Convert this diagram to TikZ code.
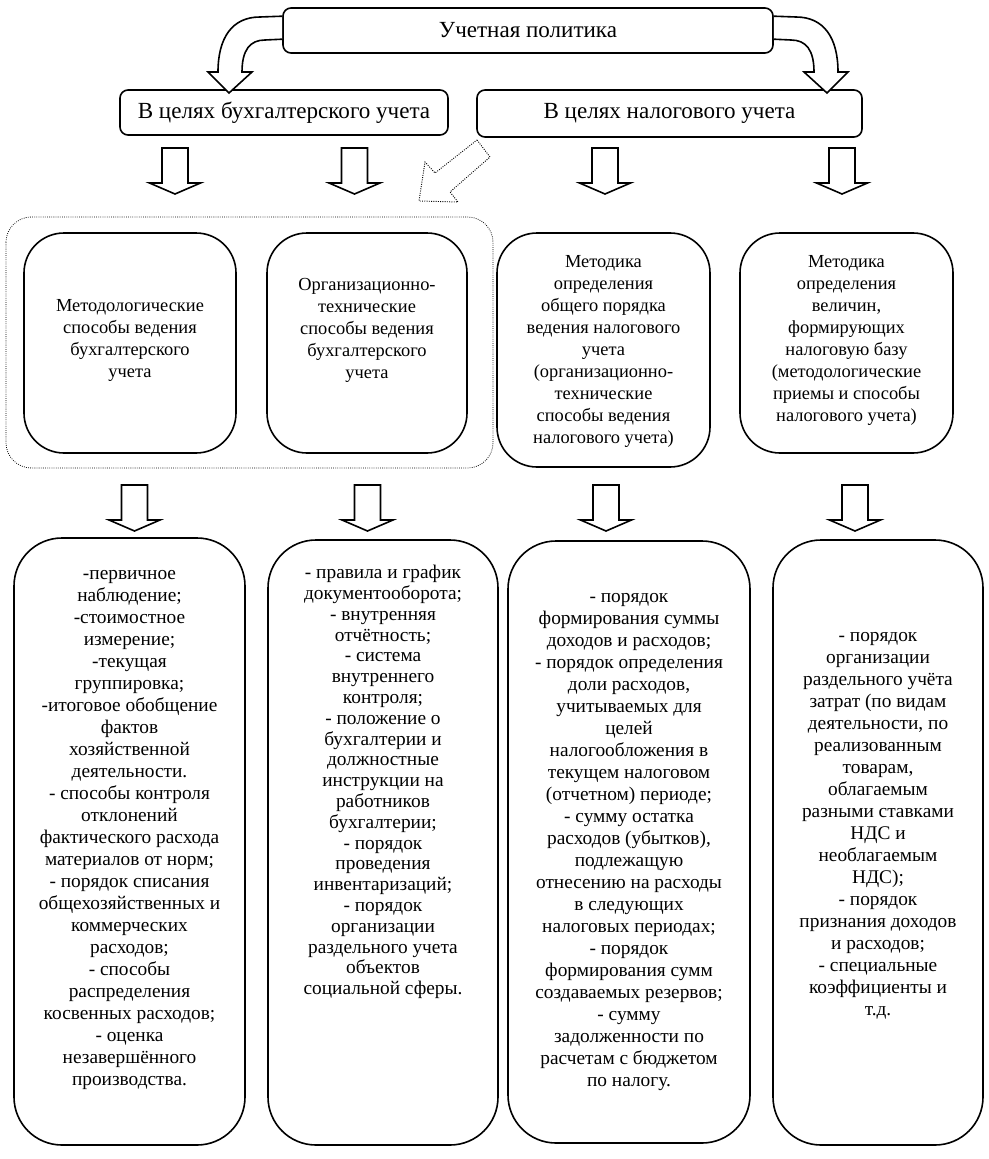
\documentclass[tikz,border=0pt]{standalone}
\usepackage{fontspec}
\setmainfont{Liberation Serif}
\usetikzlibrary{calc}
\tikzset{
  box/.style={draw, line width=1.2pt, rounded corners=30pt},
  longbox/.style={draw, line width=1.2pt, rounded corners=36pt},
  headbox/.style={draw, line width=1.2pt, rounded corners=6pt, font=\fontsize{17.3}{19}\selectfont},
  txt/.style={align=center, inner sep=0pt, font=\fontsize{13.8}{16.5}\selectfont},
  listtxt/.style={align=center, inner sep=0pt, font=\fontsize{14.5}{16.5}\selectfont},
  blockline/.style={draw, line width=1.2pt, fill=white, line join=miter},
  downarr/.pic={\path[blockline] (-13,0) -- (13,0) -- (13,35) -- (25.5,35) -- (0,46) -- (-25.5,35) -- (-13,35) -- cycle;}
}
\begin{document}
\begin{tikzpicture}[x=0.75pt,y=-0.75pt]
  \useasboundingbox (0,0) rectangle (988,1159);

  \node[headbox, minimum width=367.5pt, minimum height=33.75pt] (pol) at (528,30.5) {Учетная политика};
  \node[headbox, minimum width=246pt, minimum height=33.75pt] (acc) at (284,112.5) {В целях бухгалтерского учета};
  \node[headbox, minimum width=288.75pt, minimum height=35.25pt] (tax) at (669.5,113.5) {В целях налогового учета};

  \path[blockline] ($(pol.north west)+(0,9)$) -- (260,17) .. controls (232,17) and (218,38) .. (218,72)
    -- (208,72) -- (229,93) -- (252,72) -- (242,72) .. controls (242,50) and (250,40) .. (265,40)
    -- ($(pol.north west)+(0,32)$);
  \path[blockline] ($(pol.north east)+(0,9)$) -- (796,17) .. controls (824,17) and (838,38) .. (838,72)
    -- (848,72) -- (827,93) -- (804,72) -- (814,72) .. controls (814,50) and (806,40) .. (791,40)
    -- ($(pol.north east)+(0,32)$);

  \foreach \x in {175,354.5,605,842} \pic at (\x,148) {downarr};
  \draw[densely dotted, line width=0.7pt] (477,140) -- (490,157) -- (450,192) -- (458,202)
    -- (419,201) -- (425,162) -- (435,173) -- cycle;

  \draw[densely dotted, line width=0.6pt, rounded corners=19pt] (6,217) rectangle (493,468);

  \node[box, minimum width=159pt, minimum height=165pt] (m1) at (130,343) {};
  \node[box, minimum width=150pt, minimum height=165pt] (m2) at (367,343) {};
  \node[box, minimum width=159.75pt, minimum height=175.5pt] (m3) at (603.5,350) {};
  \node[box, minimum width=159.75pt, minimum height=165pt] (m4) at (846.5,343) {};

  \node[txt] (m1t) at (130,340) {Методологические\\способы ведения\\бухгалтерского\\учета};
  \node[txt] (m2t) at (367,330) {Организационно-\\технические\\способы ведения\\бухгалтерского\\учета};
  \node[txt] (m3t) at (603.5,351) {Методика\\определения\\общего порядка\\ведения налогового\\учета\\(организационно-\\технические\\способы ведения\\налогового учета)};
  \node[txt] (m4t) at (846.5,340) {Методика\\определения\\величин,\\формирующих\\налоговую базу\\(методологические\\приемы и способы\\налогового учета)};

  \foreach \x in {134.5,367.5,606,855} \pic at (\x,485) {downarr};

  \node[longbox, minimum width=173.25pt, minimum height=455.25pt] (b1) at (129.5,841.5) {};
  \node[longbox, minimum width=172.5pt, minimum height=453.75pt] (b2) at (383,842.5) {};
  \node[longbox, minimum width=181.5pt, minimum height=451.5pt] (b3) at (629,842) {};
  \node[longbox, minimum width=157.5pt, minimum height=453.75pt] (b4) at (878,842.5) {};

  \node[listtxt] (b1t) at (129.5,830) {-первичное\\наблюдение;\\-стоимостное\\измерение;\\-текущая\\группировка;\\-итоговое обобщение\\фактов\\хозяйственной\\деятельности.\\- способы контроля\\отклонений\\фактического расхода\\материалов от норм;\\- порядок списания\\общехозяйственных и\\коммерческих\\расходов;\\- способы\\распределения\\косвенных расходов;\\- оценка\\незавершённого\\производства.};
  \node[listtxt, font=\fontsize{14.5}{15.6}\selectfont] (b2t) at (383,782) {- правила и график\\документооборота;\\- внутренняя\\отчётность;\\- система\\внутреннего\\контроля;\\- положение о\\бухгалтерии и\\должностные\\инструкции на\\работников\\бухгалтерии;\\- порядок\\проведения\\инвентаризаций;\\- порядок\\организации\\раздельного учета\\объектов\\социальной сферы.};
  \node[listtxt] (b3t) at (629,842) {- порядок\\формирования суммы\\доходов и расходов;\\- порядок определения\\доли расходов,\\учитываемых для\\целей\\налогообложения в\\текущем налоговом\\(отчетном) периоде;\\- сумму остатка\\расходов (убытков),\\подлежащую\\отнесению на расходы\\в следующих\\налоговых периодах;\\- порядок\\формирования сумм\\создаваемых резервов;\\- сумму\\задолженности по\\расчетам с бюджетом\\по налогу.};
  \node[listtxt] (b4t) at (878,826) {- порядок\\организации\\раздельного учёта\\затрат (по видам\\деятельности, по\\реализованным\\товарам,\\облагаемым\\разными ставками\\НДС и\\необлагаемым\\НДС);\\- порядок\\признания доходов\\и расходов;\\- специальные\\коэффициенты и\\т.д.};
\end{tikzpicture}
\end{document}
